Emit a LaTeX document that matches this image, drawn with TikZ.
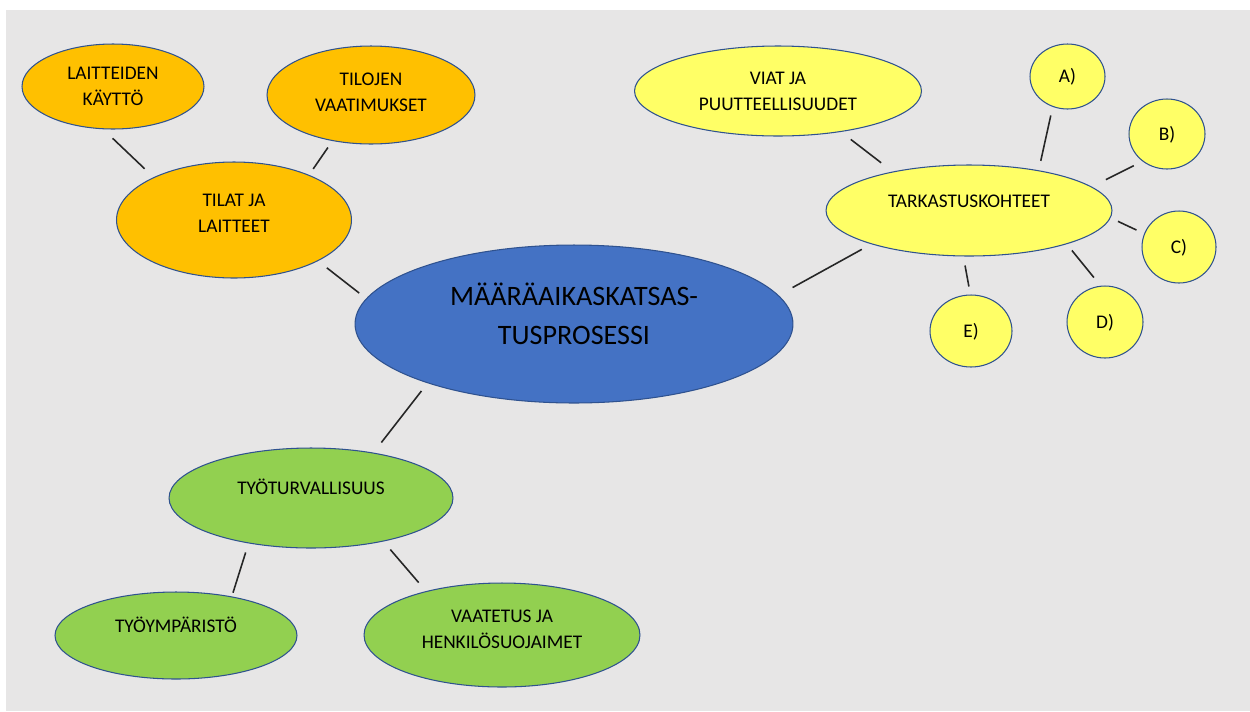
\documentclass[tikz,border=0pt]{standalone}
\usepackage{fontspec}
\setmainfont{Carlito}
\usetikzlibrary{shapes.geometric}
\definecolor{tausta}{HTML}{E7E6E6}
\definecolor{oranssi}{HTML}{FFC000}
\definecolor{keltainen}{HTML}{FFFF66}
\definecolor{sininen}{HTML}{4472C4}
\definecolor{vihrea}{HTML}{92D050}
\definecolor{reuna}{HTML}{2F528F}
\definecolor{viivavari}{HTML}{262626}
\newcommand{\kaksirivia}[2]{\begin{tabular}[b]{@{}c@{}}#1\\#2\end{tabular}}

\begin{document}
\begin{tikzpicture}[x=0.02cm, y=-0.02cm,
        pallo/.style={ellipse, draw=reuna, line width=0.6pt, inner sep=0pt, text height=8pt, font=\fontsize{11pt}{14.7pt}\selectfont},
        kaksi/.style={text height=22.7pt},
        viiva/.style={draw=viivavari, line width=0.9pt}]
        \fill[white] (0,0) rectangle (1250,711);
        \fill[tausta] (6,10) rectangle (1250,711);
        % keskus
        \node[pallo, fill=sininen, minimum width=8.76cm, minimum height=3.16cm, font=\fontsize{16pt}{22pt}\selectfont, text height=33pt, text depth=9.7pt] (paa) at (574,324) {\kaksirivia{MÄÄRÄAIKASKATSAS-}{TUSPROSESSI}};
        % tilat ja laitteet
        \node[pallo, fill=oranssi, minimum width=4.70cm, minimum height=2.32cm, kaksi, text depth=8.9pt] (tilat) at (234,220) {\kaksirivia{TILAT JA}{LAITTEET}};
        \node[pallo, fill=oranssi, minimum width=3.64cm, minimum height=1.70cm, kaksi, text depth=0.9pt] (lait) at (113,86.5) {\kaksirivia{LAITTEIDEN}{KÄYTTÖ}};
        \node[pallo, fill=oranssi, minimum width=4.16cm, minimum height=1.96cm, kaksi, text depth=4.3pt] (tiloj) at (371,95) {\kaksirivia{TILOJEN}{VAATIMUKSET}};
        % tarkastuskohteet
        \node[pallo, fill=keltainen, minimum width=5.72cm, minimum height=1.82cm, text depth=11.1pt] (tark) at (969,210.5) {TARKASTUSKOHTEET};
        \node[pallo, fill=keltainen, minimum width=5.74cm, minimum height=1.80cm, kaksi, text depth=0.9pt] (viat) at (778,91) {\kaksirivia{VIAT JA}{PUUTTEELLISUUDET}};
        \node[pallo, fill=keltainen, minimum width=1.50cm, minimum height=1.30cm, text depth=0.9pt] (kohtA) at (1067.5,76.5) {A)};
        \node[pallo, fill=keltainen, minimum width=1.52cm, minimum height=1.40cm, text depth=0.9pt] (kohtB) at (1167,134) {B)};
        \node[pallo, fill=keltainen, minimum width=1.48cm, minimum height=1.44cm, text depth=0.9pt] (kohtC) at (1179,247) {C)};
        \node[pallo, fill=keltainen, minimum width=1.52cm, minimum height=1.44cm, text depth=0.9pt] (kohtD) at (1105,322) {D)};
        \node[pallo, fill=keltainen, minimum width=1.64cm, minimum height=1.44cm, text depth=0.9pt] (kohtE) at (971,331) {E)};
        % tyoturvallisuus
        \node[pallo, fill=vihrea, minimum width=5.68cm, minimum height=2.00cm, text depth=12.3pt] (tyot) at (311,498) {TYÖTURVALLISUUS};
        \node[pallo, fill=vihrea, minimum width=4.84cm, minimum height=1.74cm, text depth=11.1pt] (tyoy) at (176,635.5) {TYÖYMPÄRISTÖ};
        \node[pallo, fill=vihrea, minimum width=5.52cm, minimum height=2.08cm, kaksi, text depth=7.1pt] (vaat) at (502,635) {\kaksirivia{VAATETUS JA}{HENKILÖSUOJAIMET}};
        % viivat
        \draw[viiva, shorten <=7.4pt, shorten >=7.0pt] (lait.257) -- (tilat.152);
        \draw[viiva, shorten <=4.5pt, shorten >=4.1pt] (tiloj.230) -- (tilat.31.5);
        \draw[viiva, shorten <=6.3pt, shorten >=5.0pt] (tilat.334) -- (paa.173.6);
        \draw[viiva, shorten <=5.6pt, shorten >=7.3pt] (paa.202.3) -- (tyot.36);
        \draw[viiva, shorten <=5.4pt, shorten >=2.2pt] (tyot.216) -- (tyoy.35.4);
        \draw[viiva, shorten <=6.0pt, shorten >=6.4pt] (tyot.329.8) -- (vaat.150.7);
        \draw[viiva, shorten <=9.1pt, shorten >=6.1pt] (paa.8.7) -- (tark.199.2);
        \draw[viiva, shorten <=7.0pt, shorten >=8.2pt] (viat.327.6) -- (tark.153.4);
        \draw[viiva, shorten <=5.5pt, shorten >=5.0pt] (tark.30.7) -- (kohtA.244.5);
        \draw[viiva, shorten <=9.0pt, shorten >=5.5pt] (tark.11.8) -- (kohtB.228.1);
        \draw[viiva, shorten <=4.6pt, shorten >=4.8pt] (tark.357.7) -- (kohtC.159.4);
        \draw[viiva, shorten <=4.6pt, shorten >=6.0pt] (tark.341.3) -- (kohtD.97.2);
        \draw[viiva, shorten <=5.2pt, shorten >=4.6pt] (tark.263) -- (kohtE.91);
    \end{tikzpicture}
\end{document}
